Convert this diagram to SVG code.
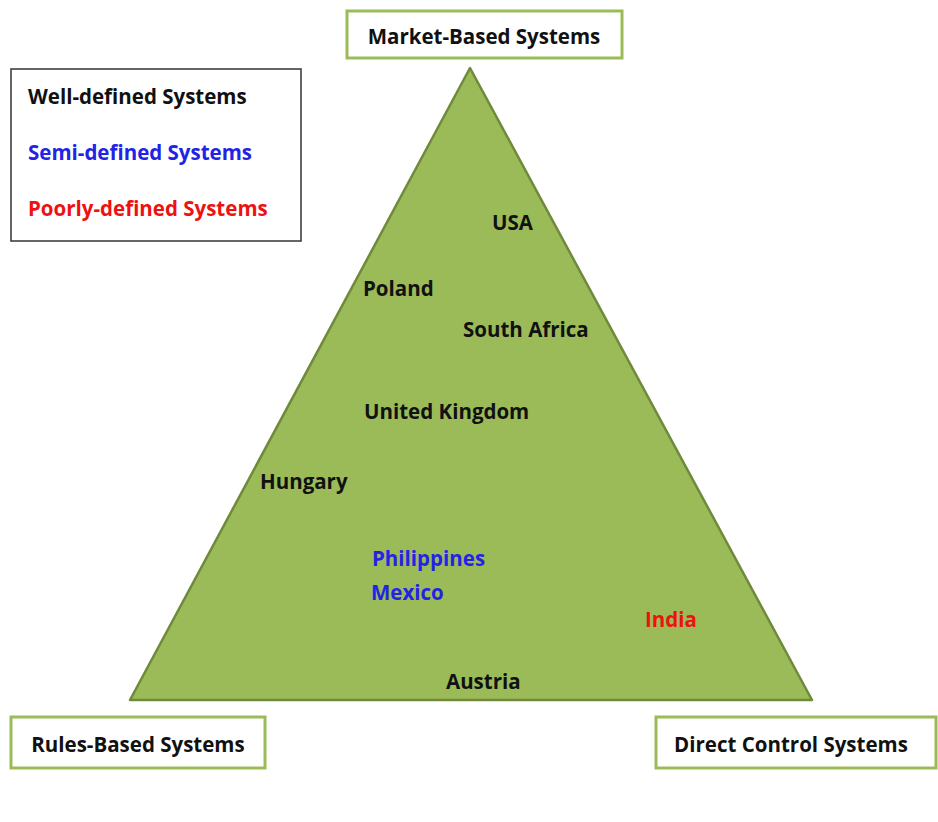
<svg xmlns="http://www.w3.org/2000/svg" width="938" height="822" viewBox="0 0 938 822">
<style>
text{font-family:"Open Sans","Liberation Sans",sans-serif;font-weight:bold;font-size:20.5px;fill:#111}
.box{fill:#fff;stroke:#9bbb59;stroke-width:3}
.blue{fill:#2323e6}
.red{fill:#ee1111}
</style>
<rect width="938" height="822" fill="#fff"/>
<g id="pyramid">
<polygon points="470,68 130,700 812,700" fill="#9bbb59" stroke="#6f8a3b" stroke-width="2.5" stroke-linejoin="round"/>
</g>
<g id="legend">
<rect x="11" y="69" width="290" height="172" fill="#fff" stroke="#333" stroke-width="1.5"/>
<text x="28" y="104">Well-defined Systems</text>
<text x="28" y="160" class="blue">Semi-defined Systems</text>
<text x="28" y="216" class="red">Poorly-defined Systems</text>
</g>
<g id="market">
<rect class="box" x="347" y="11" width="275" height="47"/>
<text x="484" y="44" text-anchor="middle">Market-Based Systems</text>
</g>
<g id="rules">
<rect class="box" x="11" y="717" width="254" height="51"/>
<text x="138" y="752" text-anchor="middle">Rules-Based Systems</text>
</g>
<g id="direct">
<rect class="box" x="656" y="717" width="280" height="51"/>
<text x="791" y="752" text-anchor="middle">Direct Control Systems</text>
</g>
<g id="countries">
<text x="492" y="230">USA</text>
<text x="363" y="296">Poland</text>
<text x="463" y="337">South Africa</text>
<text x="364" y="419">United Kingdom</text>
<text x="260" y="489">Hungary</text>
<text x="372" y="566" class="blue">Philippines</text>
<text x="371" y="600" class="blue">Mexico</text>
<text x="645" y="627" class="red">India</text>
<text x="446" y="689">Austria</text>
</g>
<g id="connectors"></g>
</svg>
